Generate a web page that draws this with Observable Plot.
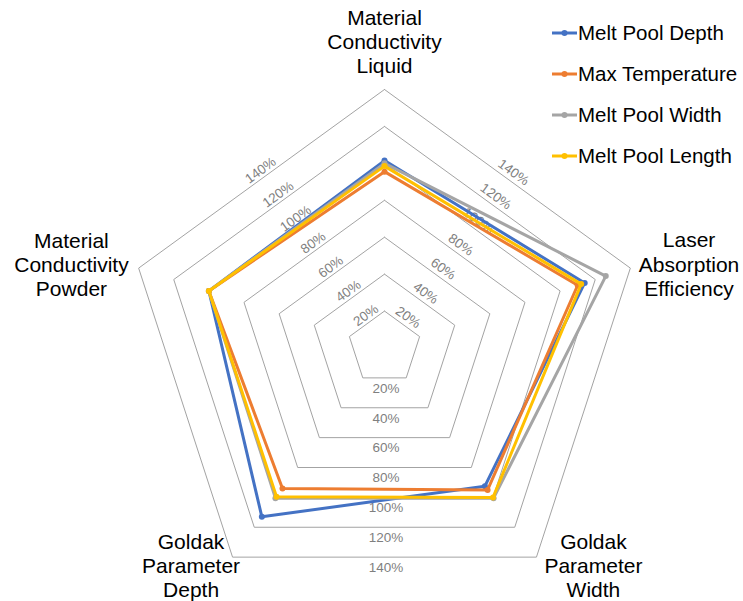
<!DOCTYPE html>
<html>
<head>
<meta charset="utf-8">
<script src="https://cdn.jsdelivr.net/npm/d3@7"></script>
<script src="https://cdn.jsdelivr.net/npm/@observablehq/plot@0.6"></script>
<style>
  html, body { margin: 0; padding: 0; background: #fff; }
  #wrap { position: relative; width: 743px; height: 601px; font-family: "Liberation Sans", Arial, Helvetica, sans-serif; }
  #legend { position: absolute; left: 552px; top: 13px; }
  .row { display: flex; align-items: center; height: 40.8px; font-size: 20.5px; color: #000; white-space: nowrap; }
  .row svg { display: block; margin-right: 1px; }
</style>
</head>
<body>
<div id="wrap">
  <div id="chart"></div>
  <div id="legend"></div>
</div>
<script>
// Radar axes, clockwise from the top
const axisNames = [
  "Material\nConductivity\nLiquid",
  "Laser\nAbsorption\nEfficiency",
  "Goldak\nParameter\nWidth",
  "Goldak\nParameter\nDepth",
  "Material\nConductivity\nPowder"
];

// Series (percent of baseline), in axis order
const seriesNames = ["Melt Pool Depth", "Max Temperature", "Melt Pool Width", "Melt Pool Length"];
const meltPoolDepth   = [101.5, 114, 92.5, 113, 100];
const maxTemperature  = [95.5, 110, 95, 94, 100];
const meltPoolWidth   = [100, 126, 100.5, 100.5, 100];
const meltPoolLength  = [98.5, 112, 100, 99.5, 100];
const seriesValues = [meltPoolDepth, maxTemperature, meltPoolWidth, meltPoolLength];
const seriesColors = ["#4472C4", "#ED7D31", "#A5A5A5", "#FFC000"];

// Grid rings and their labels
const gridLevels = [20, 40, 60, 80, 100, 120, 140];
const gridLabels = ["20%", "40%", "60%", "80%", "100%", "120%", "140%"];

// ---- layout ----
const W = 743, H = 601;
const cx = 384, cy = 347.5;     // centre of the web in pixels
const pxPerUnit = 1.8465;       // pixels per percent
const maxLevel = gridLevels[gridLevels.length - 1];
const n = axisNames.length;
const angle = (i) => (i * 2 * Math.PI) / n;
const polar = (r, a) => ({x: r * Math.sin(a), y: r * Math.cos(a)});

// grid polygons
const gridData = gridLevels.flatMap((L) =>
  d3.range(n + 1).map((i) => ({level: L, ...polar(L, angle(i % n))}))
);

// ring labels sit at the middle of three edges
const edgeMid = Math.cos(Math.PI / n);
const edges = [
  {a: -Math.PI / 5, rotate: -36, dx: -1, dy: -8.5},     // upper-left edge
  {a: Math.PI / 5, rotate: 36, dx: 6, dy: -6.5},        // upper-right edge
  {a: Math.PI, rotate: 0, dx: 1.5, dy: 10.5}            // bottom edge
];
const ringLabelMarks = edges.map((e) =>
  Plot.text(
    gridLevels.map((L, j) => ({label: gridLabels[j], ...polar(L * edgeMid, e.a)})),
    {
      x: "x", y: "y", text: "label", rotate: e.rotate,
      dx: e.dx, dy: e.dy,
      fill: "#7f7f7f", fontSize: 13.5,
      fontFamily: "Liberation Sans, Arial, sans-serif"
    }
  )
);

// series lines and markers
const seriesMarks = seriesNames.flatMap((name, s) => {
  const pts = d3.range(n + 1).map((i) => ({
    series: name,
    ...polar(seriesValues[s][i % n], angle(i % n))
  }));
  return [
    Plot.line(pts, {x: "x", y: "y", stroke: seriesColors[s], strokeWidth: 3, strokeLinejoin: "miter", strokeLinecap: "round"}),
    Plot.dot(pts.slice(0, n), {x: "x", y: "y", r: 3, fill: seriesColors[s], stroke: "none"})
  ];
});

// category labels, anchored at the outer ring's vertices
const axisLabelStyle = [
  {lineAnchor: "bottom", dx: 0, dy: -16},
  {lineAnchor: "middle", dx: 58.7, dy: -4.3},
  {lineAnchor: "top", dx: 57, dy: -25.6},
  {lineAnchor: "top", dx: -41.5, dy: -25.6},
  {lineAnchor: "middle", dx: -67.2, dy: -3.6}
];
const axisLabelMarks = axisNames.map((name, i) =>
  Plot.text([{name, ...polar(maxLevel, angle(i))}], {
    x: "x", y: "y", text: "name",
    textAnchor: "middle",
    lineAnchor: axisLabelStyle[i].lineAnchor,
    lineHeight: 1.15,
    dx: axisLabelStyle[i].dx, dy: axisLabelStyle[i].dy,
    fill: "#000", fontSize: 21,
    fontFamily: "Liberation Sans, Arial, sans-serif"
  })
);

const chart = Plot.plot({
  width: W,
  height: H,
  margin: 0,
  style: {background: "#fff", overflow: "visible"},
  x: {axis: null, domain: [-cx / pxPerUnit, (W - cx) / pxPerUnit], range: [0, W]},
  y: {axis: null, domain: [-(H - cy) / pxPerUnit, cy / pxPerUnit], range: [H, 0]},
  marks: [
    Plot.line(gridData, {x: "x", y: "y", z: "level", stroke: "#a3a3a3", strokeWidth: 1, strokeLinejoin: "miter"}),
    ...ringLabelMarks,
    ...seriesMarks,
    ...axisLabelMarks
  ]
});
document.getElementById("chart").appendChild(chart);

// legend
const legend = d3.select("#legend");
seriesNames.forEach((name, s) => {
  const row = legend.append("div").attr("class", "row");
  const sw = row.append("svg").attr("width", 25).attr("height", 10);
  sw.append("line").attr("x1", 0).attr("x2", 25).attr("y1", 5).attr("y2", 5)
    .attr("stroke", seriesColors[s]).attr("stroke-width", 3);
  sw.append("circle").attr("cx", 12.5).attr("cy", 5).attr("r", 3).attr("fill", seriesColors[s]);
  row.append("span").text(name);
});
</script>
</body>
</html>
